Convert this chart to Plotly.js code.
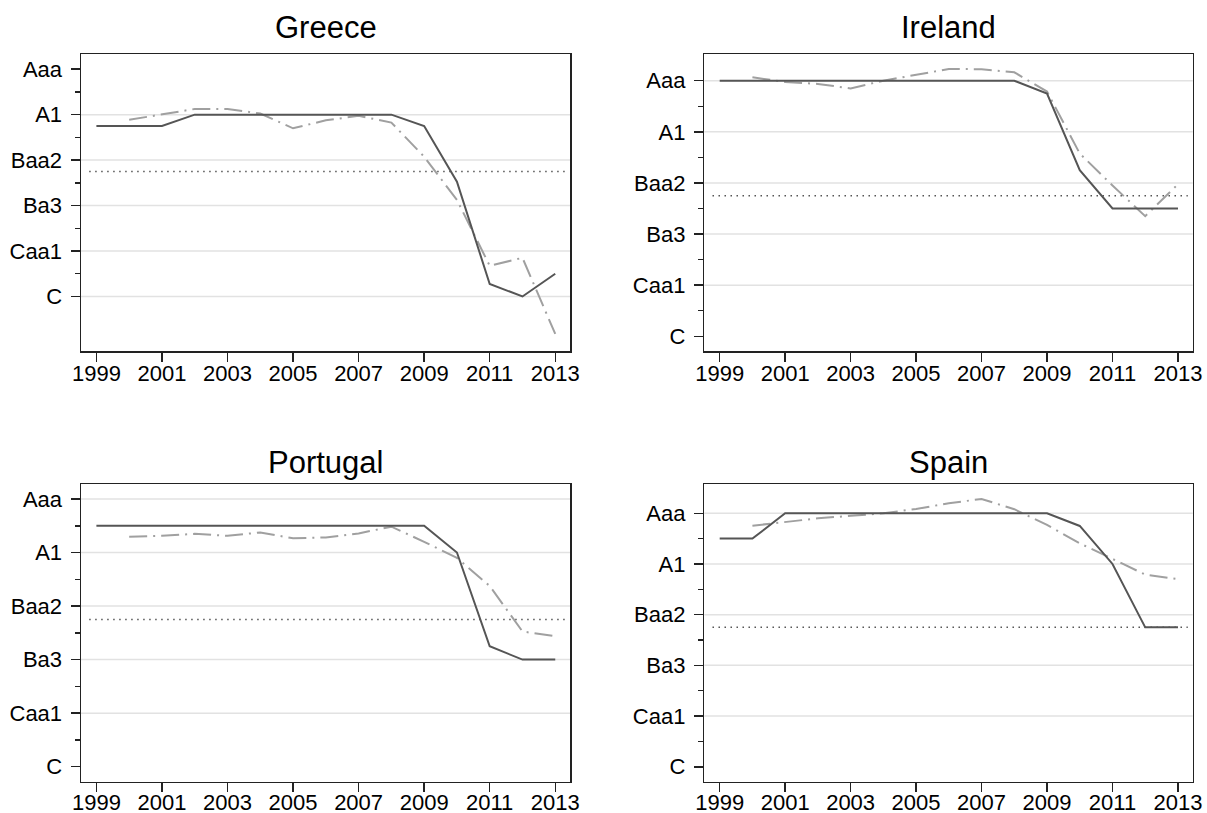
<!DOCTYPE html>
<html>
<head>
<meta charset="utf-8">
<script src="https://cdn.plot.ly/plotly-3.0.1.min.js"></script>
<style>html,body{margin:0;padding:0;background:#fff;}#chart{width:1207px;height:813px;}</style>
</head>
<body>
<div id="chart"></div>
<script>
// ---- data ----
const years = [1999,2000,2001,2002,2003,2004,2005,2006,2007,2008,2009,2010,2011,2012,2013];
const countries = ["Greece","Ireland","Portugal","Spain"];
// Moody's-style numeric scale: 1 = Aaa ... 21 = C
const ratingTickVals = [1,5,9,13,17,21];
const ratingTickText = ["Aaa","A1","Baa2","Ba3","Caa1","C"];
const ratingMinorVals = [3,7,11,15,19];
const xTickVals = [1999,2001,2003,2005,2007,2009,2011,2013];
const investmentThreshold = 10;

const greeceRating   = [6,6,6,5,5,5,5,5,5,5,6,10.9,19.9,21,19];
const greeceMarket   = [null,5.45,5.0,4.5,4.5,4.9,6.2,5.5,5.1,5.7,8.7,12.5,18.3,17.6,24.3];
const irelandRating  = [1,1,1,1,1,1,1,1,1,1,2,8,11,11,11];
const irelandMarket  = [null,0.73,1.1,1.25,1.6,1.0,0.55,0.08,0.1,0.34,1.85,6.7,9.2,11.6,9.1];
const portugalRating = [3,3,3,3,3,3,3,3,3,3,3,5,12,13,13];
const portugalMarket = [null,3.82,3.75,3.6,3.75,3.5,3.94,3.87,3.57,3.07,4.2,5.4,7.5,10.9,11.25];
const spainRating    = [3,3,1,1,1,1,1,1,1,1,1,2,5,10,10];
const spainMarket    = [null,1.98,1.7,1.4,1.2,1.0,0.66,0.21,-0.13,0.68,1.92,3.37,4.6,5.84,6.2];

const ratingSeries = [greeceRating, irelandRating, portugalRating, spainRating];
const marketSeries = [greeceMarket, irelandMarket, portugalMarket, spainMarket];

// ---- layout geometry ----
const W = 1207, H = 813;
const panels = [
  {xd:[81/W, 570/W],    yd:[(H-351)/H, (H-54)/H],   yr:[25.8,-0.34], grid:[5,9,13,17,21], ty:28, so:-7},
  {xd:[704.3/W,1192.7/W],yd:[(H-351)/H, (H-54)/H],  yr:[22.15,-1.09], grid:[1,5,9,13,17], ty:28, so:-7},
  {xd:[81/W, 570/W],    yd:[(H-781.7)/H,(H-484)/H], yr:[22.12,-0.12], grid:[1,5,9,13,17], ty:462, so:-9},
  {xd:[704.3/W,1192.7/W],yd:[(H-781.7)/H,(H-484)/H],yr:[22.18,-1.31], grid:[1,5,9,13,17], ty:462, so:-9}
];

const axisColor = '#222';
const font = {family:'"Liberation Sans", Arial, Helvetica, sans-serif', color:'#000'};
const traces = [];
const layout = {
  width:W, height:H, margin:{l:0,r:0,t:0,b:0},
  paper_bgcolor:'#fff', plot_bgcolor:'#fff', showlegend:false,
  font:font, shapes:[], annotations:[]
};

const spanX = [years[0]-0.22, years[years.length-1]+0.3];

panels.forEach((p,i)=>{
  const n = i===0 ? '' : String(i+1);
  const xa = 'x'+n, ya = 'y'+n;
  layout['xaxis'+n] = {
    domain:p.xd, anchor:ya, range:[1998.53,2013.45], autorange:false,
    tickmode:'array', tickvals:xTickVals, ticks:'outside', ticklen:9, tickwidth:1.5, tickcolor:axisColor,
    showline:true, mirror:true, linecolor:axisColor, linewidth:1.5,
    showgrid:false, zeroline:false, tickfont:{size:22, family:font.family, color:'#000'},
    ticklabelstandoff:p.so
  };
  layout['yaxis'+n] = {
    domain:p.yd, anchor:xa, range:p.yr, autorange:false,
    tickmode:'array', tickvals:ratingTickVals, ticktext:ratingTickText,
    ticks:'outside', ticklen:9, tickwidth:1.5, tickcolor:axisColor,
    minor:{tickmode:'array', tickvals:ratingMinorVals, ticks:'outside', ticklen:4.5, tickwidth:1.5, tickcolor:axisColor, showgrid:false},
    showline:true, mirror:true, linecolor:axisColor, linewidth:1.5,
    showgrid:false, zeroline:false, tickfont:{size:22, family:font.family, color:'#000'},
    ticklabelstandoff:4
  };
  p.grid.forEach(v=>{
    layout.shapes.push({type:'line', xref:xa+' domain', yref:ya, x0:0, x1:1, y0:v, y1:v,
      line:{color:'#e2e2e2', width:1.5}, layer:'below'});
  });
  layout.annotations.push({text:countries[i], xref:'paper', yref:'paper',
    x:(p.xd[0]+p.xd[1])/2, y:(H-p.ty)/H, xanchor:'center', yanchor:'middle',
    showarrow:false, font:{size:31, family:font.family, color:'#000'}});

  traces.push({x:spanX, y:[investmentThreshold, investmentThreshold], xaxis:xa, yaxis:ya,
    mode:'lines', line:{color:'#555', width:1.5, dash:'1.5px,4.5px'}, hoverinfo:'skip'});
  traces.push({x:years, y:marketSeries[i], xaxis:xa, yaxis:ya, mode:'lines',
    line:{color:'#a0a0a0', width:2, dash:'18px,6px,2px,6px'}, connectgaps:false, name:'market'});
  traces.push({x:years, y:ratingSeries[i], xaxis:xa, yaxis:ya, mode:'lines',
    line:{color:'#555', width:2}, name:'rating'});
});

Plotly.newPlot('chart', traces, layout, {displayModeBar:false, staticPlot:true});
</script>
</body>
</html>
